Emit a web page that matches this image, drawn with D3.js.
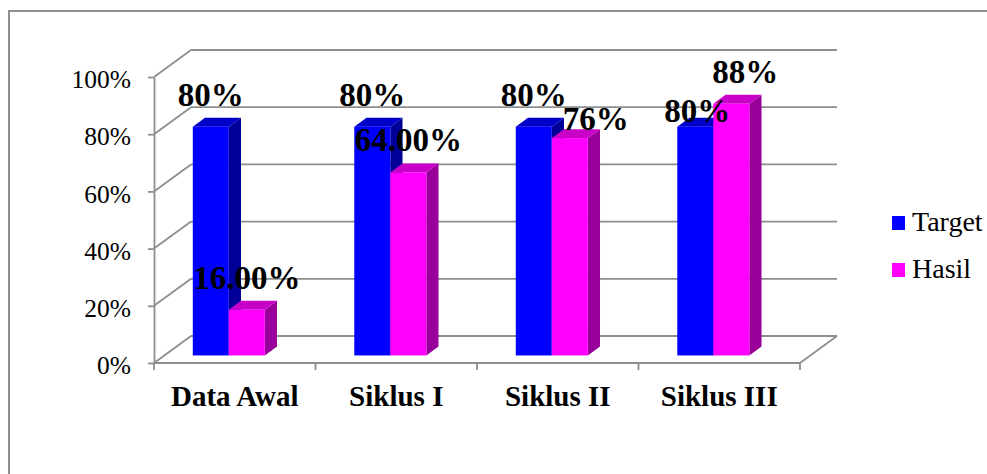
<!DOCTYPE html>
<html>
<head>
<meta charset="utf-8">
<script src="https://cdn.jsdelivr.net/npm/d3@7"></script>
<style>
  html, body { margin: 0; padding: 0; background: #fff; }
  svg { display: block; }
</style>
</head>
<body>
<svg id="chart" width="987" height="474"></svg>
<script>
// Categories and series
const categories = ["Data Awal", "Siklus I", "Siklus II", "Siklus III"];
const seriesNames = ["Target", "Hasil"];
const targetValues = [0.80, 0.80, 0.80, 0.80];
const hasilValues = [0.16, 0.64, 0.76, 0.88];
const targetLabelFormats = [".0%", ".0%", ".0%", ".0%"];
const hasilLabelFormats = [".2%", ".2%", ".0%", ".0%"];
const yTicks = [0, 0.2, 0.4, 0.6, 0.8, 1.0];

const series = [
  { name: "Target", values: targetValues, formats: targetLabelFormats,
    front: "#0000ff", side: "#000099", top: "#0000c8" },
  { name: "Hasil", values: hasilValues, formats: hasilLabelFormats,
    front: "#ff00ff", side: "#990099", top: "#c800c8" }
];

// Hand-placed label nudges (dx, dy) for labels that were moved off their bars
const labelNudge = {
  "Target|Siklus III": [2, 16],
  "Hasil|Siklus II": [26, 13],
  "Hasil|Siklus III": [14, 0]
};

const svg = d3.select("#chart");
const FONT = "'Liberation Serif', 'Times New Roman', serif";
const GRID = "#8e8e8e";

// Plot frame (front plane) and 3D depth vector
const x0 = 154, x1 = 800, yBottom = 363, yTop = 77;
const DX = 37, DY = 27;

const x = d3.scaleBand().domain(categories).range([x0, x1]);
const y = d3.scaleLinear().domain([0, 1]).range([yBottom, yTop]);
const bw = x.bandwidth();
const xs = d3.scaleBand().domain(seriesNames)
  .range([bw * 0.176, bw * 0.176 + bw * 0.446]);

// Bar depth placement: front face at d0, back face at d1 (fractions of DX/DY)
const d0 = 0.28, d1 = 0.61;
const ox = d0 * DX, oy = d0 * DY;
const ddx = (d1 - d0) * DX, ddy = (d1 - d0) * DY;

// Outer chart border
svg.append("rect")
  .attr("x", 9).attr("y", 11)
  .attr("width", 1100).attr("height", 600)
  .attr("fill", "none").attr("stroke", GRID).attr("stroke-width", 2);

// Walls: back-wall gridlines and side-wall diagonals
const walls = svg.append("g").attr("stroke", GRID).attr("stroke-width", 1.8).attr("fill", "none");
yTicks.forEach(t => {
  walls.append("line")
    .attr("x1", x0 + DX).attr("y1", y(t) - DY)
    .attr("x2", x1 + DX).attr("y2", y(t) - DY);
  walls.append("line")
    .attr("x1", x0).attr("y1", y(t))
    .attr("x2", x0 + DX).attr("y2", y(t) - DY);
});
// Floor front and right edges
walls.append("line").attr("x1", x0).attr("y1", yBottom).attr("x2", x1).attr("y2", yBottom);
walls.append("line").attr("x1", x1).attr("y1", yBottom).attr("x2", x1 + DX).attr("y2", yBottom - DY);

// Category boundary ticks
const bounds = categories.map(c => x(c)).concat([x1]);
walls.selectAll(".ctick").data(bounds).join("line")
  .attr("x1", d => d).attr("x2", d => d)
  .attr("y1", yBottom).attr("y2", yBottom + 7);

// Value axis
const yAxis = svg.append("g")
  .attr("transform", `translate(${x0},0)`)
  .call(d3.axisLeft(y).tickValues(yTicks).tickFormat(d3.format(".0%")).tickSize(6).tickSizeOuter(0));
yAxis.select(".domain").attr("stroke", GRID).attr("stroke-width", 1.8);
yAxis.selectAll(".tick line").attr("stroke", GRID).attr("stroke-width", 1.8);
yAxis.selectAll(".tick text")
  .attr("font-family", FONT).attr("font-size", 25.5).attr("fill", "#000")
  .attr("x", -23).attr("dy", "0.42em");

// Category axis labels
const xAxis = svg.append("g")
  .attr("transform", `translate(0,${yBottom})`)
  .call(d3.axisBottom(x).tickSize(0));
xAxis.select(".domain").remove();
xAxis.selectAll(".tick text")
  .attr("font-family", FONT).attr("font-size", 29).attr("font-weight", "bold")
  .attr("fill", "#000").attr("y", 43).attr("dy", 0);

// 3D bars
const bars = svg.append("g");
categories.forEach((c, i) => {
  series.forEach(s => {
    const v = s.values[i];
    const bx = x(c) + xs(s.name) + ox;
    const w = xs.bandwidth();
    const yt = y(v) - oy, yb = y(0) - oy;
    const g = bars.append("g");
    g.append("polygon")
      .attr("points", [[bx + w, yt], [bx + w + ddx, yt - ddy], [bx + w + ddx, yb - ddy], [bx + w, yb]].join(" "))
      .attr("fill", s.side);
    g.append("polygon")
      .attr("points", [[bx, yt], [bx + ddx, yt - ddy], [bx + w + ddx, yt - ddy], [bx + w, yt]].join(" "))
      .attr("fill", s.top);
    g.append("rect")
      .attr("x", bx).attr("y", yt).attr("width", w).attr("height", yb - yt)
      .attr("fill", s.front);
  });
});

// Value labels
const labels = svg.append("g")
  .attr("font-family", FONT).attr("font-size", 33).attr("font-weight", "bold")
  .attr("fill", "#000").attr("text-anchor", "middle");
categories.forEach((c, i) => {
  series.forEach(s => {
    const v = s.values[i];
    const w = xs.bandwidth();
    const cx = x(c) + xs(s.name) + ox + w / 2;
    const yt = y(v) - oy;
    const n = labelNudge[s.name + "|" + c] || [0, 0];
    labels.append("text")
      .attr("x", cx + n[0]).attr("y", yt - 21 + n[1])
      .text(d3.format(s.formats[i])(v));
  });
});

// Legend
const legend = svg.append("g").attr("transform", "translate(892,216)");
series.forEach((s, i) => {
  const row = legend.append("g").attr("transform", `translate(0,${i * 47})`);
  row.append("rect").attr("width", 13).attr("height", 14).attr("fill", s.front);
  row.append("text")
    .attr("x", 20).attr("y", 14.5)
    .attr("font-family", FONT).attr("font-size", 28).attr("fill", "#000")
    .text(s.name);
});
</script>
</body>
</html>
